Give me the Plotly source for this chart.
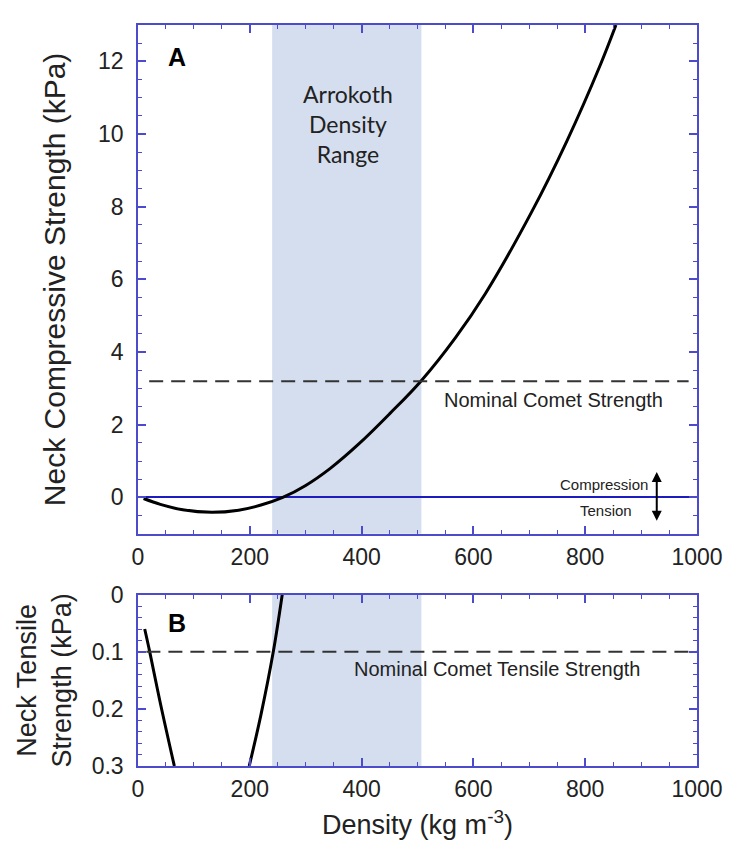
import plotly.graph_objects as go

# ---------------- data ----------------
RHO_A = [10, 40, 80, 132, 180, 220, 259, 300, 344, 397, 450, 506, 568, 621, 704, 767, 827, 855]
COMP_A = [-0.03, -0.19, -0.34, -0.41, -0.35, -0.21, 0.0, 0.33, 0.8, 1.5, 2.3, 3.2, 4.4, 5.6, 7.85, 9.8, 11.9, 13.0]

RHO_B1 = [12, 21, 40, 65]
TENS_B1 = [0.06, 0.10, 0.19, 0.30]
RHO_B2 = [199, 220, 242, 258]
TENS_B2 = [0.30, 0.21, 0.10, 0.0]

ARROKOTH_RANGE = [240, 507]
NOMINAL_COMP = 3.2
NOMINAL_COMP_X = [20, 985]
NOMINAL_TENS = 0.1
NOMINAL_TENS_X = [15, 1000]

X_TICKS = [0, 200, 400, 600, 800, 1000]
YA_TICKS = [0, 2, 4, 6, 8, 10, 12]
YB_TICKS = [0, 0.1, 0.2, 0.3]
YB_TICK_LABELS = ["0", "0.1", "0.2", "0.3"]

# ---------------- styles ----------------
FRAME = "#4b4bcc"
ZERO = "#1c1cc0"
SHADE = "#d5deef"
AX_FONT = "Liberation Sans, Arial, sans-serif"
TXT = "#222222"

fig = go.Figure()

fig.add_trace(go.Scatter(x=RHO_A, y=COMP_A, mode="lines", line=dict(color="black", width=3, shape="spline"),
                         xaxis="x", yaxis="y", showlegend=False))
fig.add_trace(go.Scatter(x=NOMINAL_COMP_X, y=[NOMINAL_COMP] * 2, mode="lines",
                         line=dict(color="#333333", width=2, dash="14px,8px"),
                         xaxis="x", yaxis="y", showlegend=False))
fig.add_trace(go.Scatter(x=RHO_B1, y=TENS_B1, mode="lines", line=dict(color="black", width=3, shape="spline"),
                         xaxis="x2", yaxis="y2", showlegend=False))
fig.add_trace(go.Scatter(x=RHO_B2, y=TENS_B2, mode="lines", line=dict(color="black", width=3, shape="spline"),
                         xaxis="x2", yaxis="y2", showlegend=False))
fig.add_trace(go.Scatter(x=NOMINAL_TENS_X, y=[NOMINAL_TENS] * 2, mode="lines",
                         line=dict(color="#333333", width=2, dash="14px,8px"),
                         xaxis="x2", yaxis="y2", showlegend=False))

for xr, yr in (("x", "y domain"), ("x2", "y2 domain")):
    fig.add_shape(type="rect", xref=xr, yref=yr, x0=ARROKOTH_RANGE[0], x1=ARROKOTH_RANGE[1], y0=0, y1=1,
                  fillcolor=SHADE, line=dict(width=0), layer="below")

common = dict(showline=True, linecolor=FRAME, linewidth=1.5, mirror="allticks",
              ticks="inside", ticklen=8, tickwidth=1.5, tickcolor=FRAME,
              showgrid=False, tickfont=dict(family=AX_FONT, size=23, color=TXT))

fig.update_layout(
    width=735, height=847,
    margin=dict(l=138, r=30, t=13, b=81),
    paper_bgcolor="white", plot_bgcolor="white",
    xaxis=dict(domain=[0, 1], anchor="y", range=[0, 1000], tickvals=X_TICKS,
               minor=dict(dtick=50, ticks="inside", ticklen=4, tickcolor=FRAME, tickwidth=1.2),
               zeroline=False, ticklabelstandoff=2, **common),
    yaxis=dict(domain=[0.3134, 1], anchor="x", range=[-1, 13], tickvals=YA_TICKS,
               minor=dict(dtick=0.5, ticks="inside", ticklen=4, tickcolor=FRAME, tickwidth=1.2),
               zeroline=True, zerolinecolor=ZERO, zerolinewidth=2,
               ticklabelstandoff=8,
               title=dict(text="Neck Compressive Strength (kPa)", standoff=24,
                          font=dict(family=AX_FONT, size=30, color=TXT)),
               **common),
    xaxis2=dict(domain=[0, 1], anchor="y2", range=[0, 1000], tickvals=X_TICKS,
                minor=dict(dtick=50, ticks="inside", ticklen=4, tickcolor=FRAME, tickwidth=1.2),
                zeroline=False, ticklabelstandoff=2,
                title=dict(text="Density (kg m<sup>-3</sup>)", standoff=14,
                           font=dict(family=AX_FONT, size=27, color=TXT)),
                **common),
    yaxis2=dict(domain=[0, 0.2311], anchor="x2", range=[0.3, 0], tickvals=YB_TICKS, ticktext=YB_TICK_LABELS,
                minor=dict(dtick=0.02, ticks="inside", ticklen=4, tickcolor=FRAME, tickwidth=1.2),
                zeroline=False, ticklabelstandoff=8,
                title=dict(text="Neck Tensile<br>Strength (kPa)", standoff=12,
                           font=dict(family=AX_FONT, size=27, color=TXT)),
                **common),
)

ann_font = dict(family=AX_FONT, color=TXT)
fig.add_annotation(x=70, y=12.12, xref="x", yref="y", text="<b>A</b>", showarrow=False,
                   font=dict(family=AX_FONT, size=25, color="black"))
fig.add_annotation(x=376, y=10.27, xref="x", yref="y", text="Arrokoth<br>Density<br>Range", showarrow=False,
                   font=dict(family="Lato, sans-serif", size=23, color=TXT))
fig.add_annotation(x=744, y=2.68, xref="x", yref="y", text="Nominal Comet Strength", showarrow=False,
                   font=dict(size=20, **ann_font))
fig.add_annotation(x=834, y=0.35, xref="x", yref="y", text="Compression", showarrow=False,
                   font=dict(size=15, **ann_font))
fig.add_annotation(x=838, y=-0.35, xref="x", yref="y", text="Tension", showarrow=False,
                   font=dict(size=15, **ann_font))
fig.add_annotation(x=928, y=0.70, ax=928, ay=-0.68, xref="x", yref="y", axref="x", ayref="y",
                   text="", showarrow=True, arrowhead=2, arrowside="end+start", arrowsize=1,
                   arrowwidth=2, arrowcolor="black")
fig.add_annotation(x=70, y=0.05, xref="x2", yref="y2", text="<b>B</b>", showarrow=False,
                   font=dict(family=AX_FONT, size=25, color="black"))
fig.add_annotation(x=643, y=0.13, xref="x2", yref="y2", text="Nominal Comet Tensile Strength", showarrow=False,
                   font=dict(size=20, **ann_font))

fig.write_html("out.html", config={"displayModeBar": False},
               post_script="document.body.style.margin='0';document.body.style.overflow='hidden';")
